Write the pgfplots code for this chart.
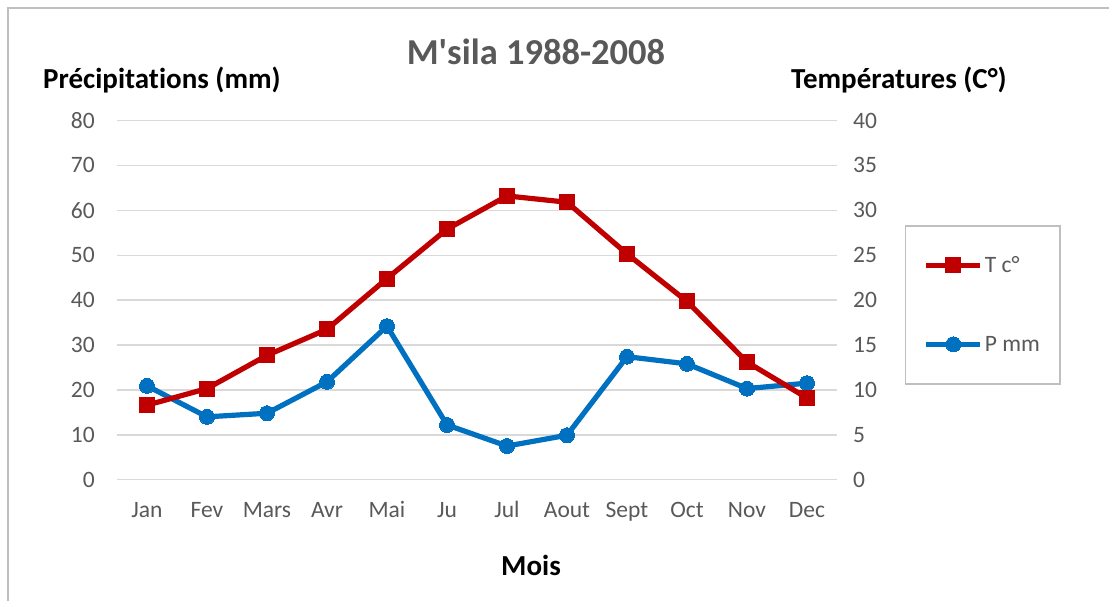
\documentclass[border=0pt]{standalone}
\usepackage{pgfplots}
\pgfplotsset{compat=1.18}
\usepackage{pgfplotstable}
\usepackage{fontspec}
\setmainfont{Carlito}[Ligatures={NoCommon}]
\definecolor{tred}{HTML}{C00000}
\definecolor{pblue}{HTML}{0070C0}
\definecolor{gridc}{HTML}{D9D9D9}
\definecolor{txt}{HTML}{595959}
\definecolor{frame}{HTML}{BFBFBF}

\pgfplotstableread{
m P
0 20.9
1 14.0
2 14.8
3 21.8
4 34.2
5 12.2
6 7.5
7 9.9
8 27.4
9 25.8
10 20.3
11 21.5
}\pdata
\pgfplotstableread{
m T
0 8.3
1 10.15
2 13.85
3 16.75
4 22.4
5 27.9
6 31.6
7 30.9
8 25.15
9 19.85
10 13.1
11 9.1
}\tdata

\begin{document}
\begin{tikzpicture}[x=1pt,y=1pt]
\useasboundingbox (0,0) rectangle (1109,-601);
\fill[white] (0,0) rectangle (1109,-601);
\draw[frame, line width=2.5pt] (8,-601) -- (8,-8) -- (1109,-8);

\pgfplotsset{
  common/.style={
    at={(117pt,-479.7pt)}, anchor=south west,
    scale only axis, width=720pt, height=359.2pt,
    xmin=-0.5, xmax=11.5, ymin=0,
    axis line style={draw=none},
    major tick length=0pt,
    tick style={draw=none},
    tick label style={font=\fontsize{23.5}{26}\selectfont, text=txt},
    /pgf/number format/assume math mode=true,
  }
}

\begin{axis}[common,
  ymax=80, ytick={0,10,...,80},
  ytick pos=left, xtick pos=bottom,
  ymajorgrids, grid style={gridc, line width=1.4pt},
  xtick={0,...,11},
  xticklabels={Jan,Fev,Mars,Avr,Mai,Ju,Jul,Aout,Sept,Oct,Nov,Dec},
  xticklabel style={anchor=base, inner sep=0pt, yshift=-37.5pt},
  yticklabel style={anchor=east, inner sep=0pt, xshift=-22pt},
]
\addplot[pblue, line width=5.2pt, mark=*, mark size=7.5pt, mark options={solid, fill=pblue, draw=pblue, line width=0pt}] table[x=m, y=P] {\pdata};
\end{axis}

\begin{axis}[common,
  ymax=40, ytick={0,5,...,40},
  axis x line=none, axis y line*=right,
  yticklabel style={anchor=west, inner sep=0pt, xshift=16pt},
  legend style={at={(1.0944,0.709)}, anchor=north west,
    draw=frame, line width=1.5pt, fill=white,
    inner xsep=18pt, inner ysep=0pt, row sep=0pt,
    font=\fontsize{23.5}{26}\selectfont, text=txt,
    nodes={minimum height=79pt, inner xsep=2pt, inner ysep=0pt, anchor=west}},
  legend cell align=left,
  legend image code/.code={\draw[mark repeat=2, mark phase=2] plot coordinates {(0pt,0pt) (27pt,0pt) (54pt,0pt)};},
]
\addplot[tred, line width=5.2pt, mark=square*, mark size=7.5pt, mark options={solid, fill=tred, draw=tred, line width=0pt}] table[x=m, y=T] {\tdata};
\addlegendentry{T c°}
\addlegendimage{pblue, line width=5.2pt, mark=*, mark size=7.5pt, mark options={solid, fill=pblue, draw=pblue, line width=0pt}}
\addlegendentry{P mm}
\end{axis}

\node[anchor=base, text=txt, font=\fontsize{36.5}{40}\selectfont\bfseries, inner sep=0pt] at (536,-64.3) {M\textquotesingle sila 1988-2008};
\node[anchor=base west, text=black, font=\fontsize{29}{32}\selectfont\bfseries, inner sep=0pt] at (43,-88.3) {Précipitations (mm)};
\node[anchor=base east, text=black, font=\fontsize{29}{32}\selectfont\bfseries, inner sep=0pt] at (1007,-89) {Températures (C°)};
\node[anchor=base, text=black, font=\fontsize{29}{32}\selectfont\bfseries, inner sep=0pt] at (531,-575) {Mois};
\end{tikzpicture}
\end{document}
